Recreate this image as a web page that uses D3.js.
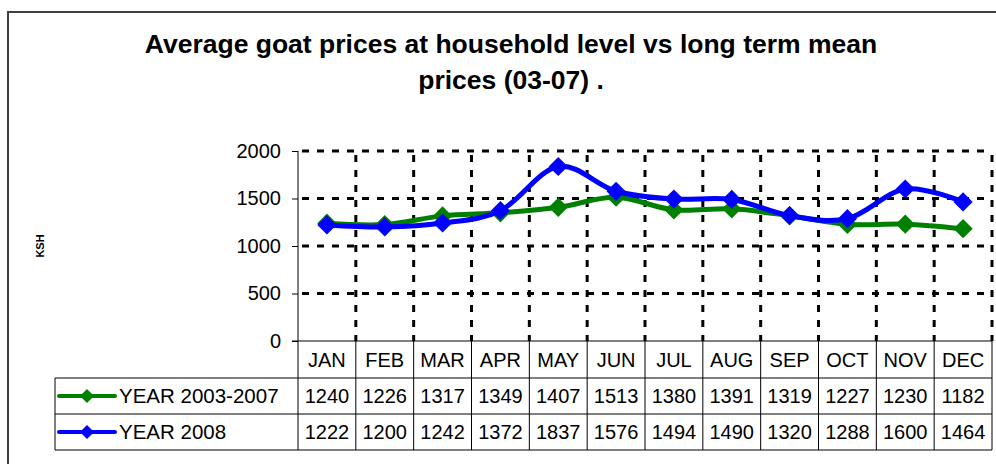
<!DOCTYPE html>
<html>
<head>
<meta charset="utf-8">
<script src="https://cdn.jsdelivr.net/npm/d3@7"></script>
<style>
  body { margin: 0; background: #fff; }
  svg { display: block; font-family: Arial, "Liberation Sans", sans-serif; }
</style>
</head>
<body>
<div id="chart"></div>
<script type="text/javascript">
var months = ["JAN", "FEB", "MAR", "APR", "MAY", "JUN", "JUL", "AUG", "SEP", "OCT", "NOV", "DEC"];
var mean0307 = [1240, 1226, 1317, 1349, 1407, 1513, 1380, 1391, 1319, 1227, 1230, 1182];
var year2008 = [1222, 1200, 1242, 1372, 1837, 1576, 1494, 1490, 1320, 1288, 1600, 1464];
var seriesNames = ["YEAR 2003-2007", "YEAR 2008"];
var seriesColors = ["#008000", "#0000ff"];
var yTicks = [0, 500, 1000, 1500, 2000];

var W = 996, H = 464,
    pLeft = 298, pRight = 992, pTop = 151, pBottom = 341,
    legLeft = 55, rowH = [341, 378, 414, 450];

var svg = d3.select("#chart").append("svg")
    .attr("width", W)
    .attr("height", H);

// outer frame
svg.append("path")
    .attr("d", "M8," + H + "V12H" + W)
    .attr("fill", "none")
    .attr("stroke", "#404040")
    .attr("stroke-width", 2);

// title
svg.append("text")
    .attr("x", 511).attr("y", 53)
    .attr("text-anchor", "middle")
    .style("font-size", "26.5px").style("font-weight", "bold")
    .text("Average goat prices at household level vs long term mean");
svg.append("text")
    .attr("x", 511).attr("y", 89)
    .attr("text-anchor", "middle")
    .style("font-size", "26.5px").style("font-weight", "bold")
    .text("prices (03-07) .");

var x = d3.scaleBand().domain(months).range([pLeft, pRight]);
var y = d3.scaleLinear().domain([0, 2000]).range([pBottom, pTop]);

// grid
var grid = svg.append("g").attr("stroke", "#000").attr("stroke-width", 3)
    .attr("stroke-dasharray", "7,8");
grid.selectAll("line.h")
    .data(yTicks.slice(1))
  .enter().append("line")
    .attr("x1", pLeft + 4).attr("x2", pRight)
    .attr("y1", function(d) { return y(d); })
    .attr("y2", function(d) { return y(d); });
grid.selectAll("line.v")
    .data(months.slice(1).concat(["end"]))
  .enter().append("line")
    .attr("x1", function(d) { return d == "end" ? pRight : x(d); })
    .attr("x2", function(d) { return d == "end" ? pRight : x(d); })
    .attr("y1", pTop + 4).attr("y2", pBottom);

// y axis
var yAxis = svg.append("g")
    .attr("transform", "translate(" + pLeft + ",0)")
    .call(d3.axisLeft(y).tickValues(yTicks).tickFormat(d3.format("d")).tickSize(6).tickPadding(11));
yAxis.select(".domain").attr("stroke", "#000").attr("d", "M0," + pTop + "V" + pBottom);
yAxis.selectAll(".tick line").attr("stroke", "#000");
yAxis.selectAll("text").style("font-size", "20px").attr("fill", "#000");

svg.append("text")
    .attr("transform", "translate(44,246) rotate(-90)")
    .attr("text-anchor", "middle")
    .style("font-size", "11px").style("font-weight", "bold")
    .text("KSH");

// data table
var tbl = svg.append("g").attr("stroke", "#000").attr("stroke-width", 1);
tbl.append("line").attr("x1", pLeft - 6).attr("x2", pRight).attr("y1", rowH[0]).attr("y2", rowH[0]);
rowH.slice(1).forEach(function(r) {
  tbl.append("line").attr("x1", legLeft).attr("x2", pRight).attr("y1", r).attr("y2", r);
});
tbl.append("line").attr("x1", legLeft).attr("x2", legLeft).attr("y1", rowH[1]).attr("y2", rowH[3]);
tbl.selectAll("line.col")
    .data(months.concat(["end"]))
  .enter().append("line")
    .attr("x1", function(d) { return d == "end" ? pRight : x(d); })
    .attr("x2", function(d) { return d == "end" ? pRight : x(d); })
    .attr("y1", rowH[0]).attr("y2", rowH[3]);

svg.selectAll("text.month")
    .data(months)
  .enter().append("text")
    .attr("x", function(d) { return x(d) + x.bandwidth() / 2; })
    .attr("y", 367)
    .attr("text-anchor", "middle")
    .style("font-size", "20px")
    .text(function(d) { return d; });

var series = [mean0307, year2008];
series.forEach(function(vals, i) {
  var base = (rowH[i + 1] + rowH[i + 2]) / 2 + 7;
  svg.selectAll("text.v" + i)
      .data(vals)
    .enter().append("text")
      .attr("x", function(d, j) { return x(months[j]) + x.bandwidth() / 2; })
      .attr("y", base)
      .attr("text-anchor", "middle")
      .style("font-size", "20px")
      .text(function(d) { return d; });

  // legend key
  var cy = (rowH[i + 1] + rowH[i + 2]) / 2;
  svg.append("line")
      .attr("x1", 59).attr("x2", 115).attr("y1", cy).attr("y2", cy)
      .attr("stroke", seriesColors[i]).attr("stroke-width", 4).attr("stroke-linecap", "round");
  svg.append("path")
      .attr("d", "M87," + (cy - 7) + "L94," + cy + "L87," + (cy + 7) + "L80," + cy + "Z")
      .attr("fill", seriesColors[i]);
  svg.append("text")
      .attr("x", 119).attr("y", base)
      .style("font-size", "20.5px")
      .text(seriesNames[i]);
});

// lines
var line = d3.line()
    .x(function(d, j) { return x(months[j]) + x.bandwidth() / 2; })
    .y(function(d) { return y(d); })
    .curve(d3.curveCatmullRom.alpha(0));

var diamond = d3.symbol().type(d3.symbolDiamond2).size(235);

series.forEach(function(vals, i) {
  svg.append("path")
      .datum(vals)
      .attr("d", line)
      .attr("fill", "none")
      .attr("stroke", seriesColors[i])
      .attr("stroke-width", 5);
  svg.selectAll("path.m" + i)
      .data(vals)
    .enter().append("path")
      .attr("d", diamond)
      .attr("transform", function(d, j) {
        return "translate(" + (x(months[j]) + x.bandwidth() / 2) + "," + y(d) + ")";
      })
      .attr("fill", seriesColors[i]);
});
</script>
</body>
</html>
